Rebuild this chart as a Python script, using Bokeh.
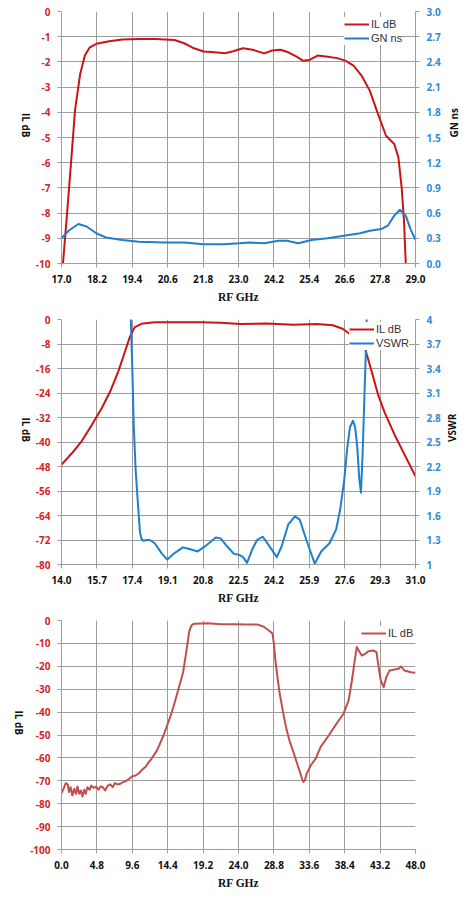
import math
from bokeh.plotting import figure
from bokeh.models import (Range1d, LinearAxis, FixedTicker, NumeralTickFormatter,
                          Legend, LegendItem)
from bokeh.layouts import column
from bokeh.embed import file_html
from bokeh.resources import INLINE

# ---------------- data ----------------
# Chart 1 : 17-29 GHz, IL dB (left) and GN ns (right)
c1_freq = [17.05, 17.19, 17.33, 17.46, 17.63, 17.79, 17.96, 18.18, 18.62, 19.06, 19.62, 20.17,
           20.83, 21.16, 21.49, 21.82, 22.2, 22.54, 22.82, 23.15, 23.48, 23.87, 24.14, 24.42,
           24.69, 24.97, 25.18, 25.41, 25.68, 25.96, 26.35, 26.62, 26.9, 27.17, 27.45, 27.73,
           28.0, 28.28, 28.42, 28.53, 28.61, 28.67]
c1_il = [-10.0, -8.0, -5.9, -3.9, -2.5, -1.75, -1.42, -1.28, -1.18, -1.11, -1.09, -1.09,
         -1.13, -1.26, -1.46, -1.59, -1.62, -1.66, -1.58, -1.46, -1.52, -1.66, -1.55, -1.52,
         -1.62, -1.79, -1.95, -1.92, -1.75, -1.79, -1.85, -1.95, -2.15, -2.54, -3.14, -4.07,
         -4.93, -5.26, -5.79, -6.98, -8.3, -10.0]
c1_gn_freq = [17.0, 17.24, 17.57, 17.85, 18.18, 18.51, 19.06, 19.62, 20.5, 21.16, 21.82, 22.48,
              23.04, 23.37, 23.87, 24.36, 24.64, 25.03, 25.47, 26.02, 26.57, 27.12, 27.45,
              27.84, 28.06, 28.28, 28.47, 28.67, 28.83, 29.0]
c1_gn = [0.30, 0.39, 0.47, 0.44, 0.36, 0.31, 0.28, 0.26, 0.25, 0.25, 0.23, 0.23,
         0.24, 0.25, 0.24, 0.27, 0.27, 0.24, 0.28, 0.30, 0.33, 0.36, 0.39,
         0.41, 0.45, 0.57, 0.64, 0.57, 0.41, 0.28]
c1_xticks = [17.0, 18.2, 19.4, 20.6, 21.8, 23.0, 24.2, 25.4, 26.6, 27.8, 29.0]
c1_yticks = [0, -1, -2, -3, -4, -5, -6, -7, -8, -9, -10]
c1_y2ticks = [0.0, 0.3, 0.6, 0.9, 1.2, 1.5, 1.8, 2.1, 2.4, 2.7, 3.0]

# Chart 2 : 14-31 GHz, IL dB (left) and VSWR (right)
c2_freq = [14.0, 14.51, 14.98, 15.46, 15.93, 16.33, 16.72, 17.04, 17.28, 17.52, 17.84, 18.47,
           19.42, 20.69, 21.64, 22.59, 23.86, 25.13, 26.24, 27.03, 27.5, 27.8, 28.2, 28.58,
           28.9, 29.21, 29.53, 30.0, 30.48, 31.0]
c2_il = [-47.4, -43.6, -39.6, -34.4, -29.0, -23.6, -17.1, -10.6, -5.7, -2.5, -1.4, -0.9,
         -0.9, -0.9, -1.1, -1.5, -1.3, -1.7, -1.5, -1.9, -3.0, -4.5, -6.8, -9.5,
         -17.1, -24.7, -30.6, -37.7, -44.2, -51.2]
c2_vswr_freq = [17.31, 17.33, 17.40, 17.47, 17.56, 17.69, 17.77, 17.85, 17.93, 18.08,
                18.24, 18.48, 18.80, 19.08, 19.43, 19.83, 20.14, 20.54, 20.93, 21.41,
                21.64, 21.96, 22.28, 22.51, 22.72, 22.91, 23.15, 23.39, 23.67, 23.94,
                24.34, 24.57, 24.89, 25.21, 25.44, 25.76, 26.16, 26.47, 26.87, 27.19,
                27.38, 27.58, 27.72, 27.85, 28.00, 28.10, 28.20, 28.30, 28.38, 28.46,
                28.54, 28.62, 28.70]
c2_vswr = [4.5, 4.0, 3.4, 2.7, 2.16, 1.67, 1.39, 1.31, 1.29, 1.30,
           1.30, 1.26, 1.14, 1.06, 1.14, 1.21, 1.19, 1.16, 1.23, 1.33,
           1.32, 1.22, 1.13, 1.12, 1.09, 1.02, 1.18, 1.30, 1.34, 1.24,
           1.09, 1.22, 1.49, 1.59, 1.55, 1.30, 1.01, 1.16, 1.26, 1.43,
           1.67, 2.04, 2.42, 2.68, 2.76, 2.68, 2.45, 2.05, 1.88, 2.35,
           3.0, 3.64, 4.5]
c2_xticks = [14.0, 15.7, 17.4, 19.1, 20.8, 22.5, 24.2, 25.9, 27.6, 29.3, 31.0]
c2_yticks = [0, -8, -16, -24, -32, -40, -48, -56, -64, -72, -80]
c2_y2ticks = [1.0, 1.3, 1.6, 1.9, 2.2, 2.5, 2.8, 3.1, 3.4, 3.7, 4.0]

# Chart 3 : 0-48 GHz wideband IL dB
c3_freq = [0.0, 0.27, 0.58, 0.85, 1.02, 1.24, 1.47, 1.73, 1.96, 2.17,
           2.4, 2.62, 2.84, 3.07, 3.29, 3.51, 3.82, 4.04, 4.4, 4.71,
           5.02, 5.29, 5.6, 5.91, 6.27, 6.62, 6.93, 7.24, 7.6, 7.96,
           8.27, 8.71, 9.16, 9.6, 10.04, 10.49, 10.93, 11.37, 11.82, 12.07,
           12.95, 13.84, 14.73, 15.17, 15.62, 16.06, 16.5, 16.81, 17.08, 17.3,
           17.52, 17.75, 18.06, 19.83, 21.6, 23.38, 25.15, 26.49, 27.37, 28.26,
           28.62, 28.8, 29.0, 29.28, 29.59, 30.04, 30.48, 30.9, 31.37, 31.8,
           32.25, 32.6, 32.79, 33.0, 33.23, 33.81, 34.47, 35.14, 36.25, 37.13,
           38.24, 38.93, 39.38, 39.82, 40.04, 40.36, 40.71, 41.16, 41.6, 42.27,
           42.71, 42.93, 43.29, 43.69, 44.04, 44.49, 45.16, 45.69, 46.04, 46.49,
           47.38, 48.0]
c3_il = [-75.4, -73.5, -71.0, -71.6, -74.9, -72.8, -76.4, -73.5, -75.7, -72.5,
         -75.7, -74.2, -76.9, -73.9, -75.7, -72.8, -73.9, -72.1, -73.1, -72.5,
         -73.9, -72.5, -72.8, -74.2, -72.1, -71.6, -72.8, -71.0, -71.6, -71.3,
         -70.7, -70.2, -69.1, -68.0, -67.7, -66.7, -65.2, -64.0, -61.9, -61.0,
         -56.7, -50.1, -42.2, -37.8, -32.7, -27.6, -22.5, -16.0, -10.2, -5.1,
         -2.9, -1.7, -1.4, -1.2, -1.6, -1.6, -1.7, -1.7, -2.6, -4.7,
         -5.8, -10.2, -17.4, -24.7, -32.0, -40.0, -47.2, -52.3, -56.7, -61.0,
         -65.4, -69.0, -70.5, -69.8, -67.0, -63.2, -60.3, -55.2, -50.1, -45.8,
         -40.7, -34.9, -26.2, -16.0, -11.6, -13.4, -15.3, -14.6, -13.4, -13.1,
         -13.8, -18.9, -26.2, -29.1, -24.7, -21.8, -21.4, -21.1, -20.1, -21.8,
         -22.6, -22.8]
c3_xticks = [0.0, 4.8, 9.6, 14.4, 19.2, 24.0, 28.8, 33.6, 38.4, 43.2, 48.0]
c3_yticks = [0, -10, -20, -30, -40, -50, -60, -70, -80, -90, -100]

# ---------------- style ----------------
RED_LINE = "#cc1416"
RED_LINE3 = "#c0504d"
BLUE_LINE = "#1f7fcf"
RED_TXT = "#d42424"
BLUE_TXT = "#2f8ad6"
GRID = "#9d9d9d"
TICK_FONT = "Open Sans"
HAS_ORIENT = "axis_label_orientation" in LinearAxis.properties()


def style_axis(ax, color, label, label_font, label_size, standoff, orient=None):
    ax.major_label_text_font = TICK_FONT
    ax.major_label_text_font_style = "bold"
    ax.major_label_text_font_size = "10px"
    ax.major_label_text_color = color
    ax.axis_line_color = GRID
    ax.major_tick_line_color = GRID
    ax.major_tick_out = 4
    ax.major_tick_in = 0
    ax.minor_tick_line_color = None
    ax.major_label_standoff = 7
    ax.axis_label = label
    ax.axis_label_text_font = label_font
    ax.axis_label_text_font_style = "bold"
    ax.axis_label_text_font_size = label_size
    ax.axis_label_text_color = "#111111"
    ax.axis_label_standoff = standoff
    if orient is not None and HAS_ORIENT:
        ax.axis_label_orientation = orient


def make_fig(xr, yr, bl, br, bt, bb, fw, fh):
    p = figure(width=bl + fw + br, height=bt + fh + bb, output_backend="svg",
               toolbar_location=None, x_range=Range1d(*xr), y_range=Range1d(*yr),
               min_border_left=bl, min_border_right=br,
               min_border_top=bt, min_border_bottom=bb)
    p.outline_line_color = None
    p.background_fill_color = "white"
    p.border_fill_color = "white"
    p.xgrid.grid_line_color = GRID
    p.ygrid.grid_line_color = GRID
    p.xgrid.grid_line_width = 1
    p.ygrid.grid_line_width = 1
    return p


def make_legend(items, loc, padding=2):
    lg = Legend(items=items, location=loc)
    lg.background_fill_color = "white"
    lg.background_fill_alpha = 1.0
    lg.border_line_color = None
    lg.label_text_font = "Liberation Sans"
    lg.label_text_font_size = "11px"
    lg.label_text_color = "#333333"
    lg.glyph_width = 25
    lg.glyph_height = 14
    lg.label_height = 14
    lg.label_standoff = 2
    lg.spacing = 0
    lg.padding = padding
    lg.margin = 0
    return lg


# ---------------- chart 1 ----------------
p1 = make_fig((17.0, 29.0), (-10, 0), 61, 47, 11, 47, 362, 252)
p1.extra_y_ranges = {"gn": Range1d(0.0, 3.0)}
r1 = p1.line(c1_freq, c1_il, line_color=RED_LINE, line_width=2, line_join="round")
r2 = p1.line(c1_gn_freq, c1_gn, y_range_name="gn", line_color=BLUE_LINE, line_width=2,
             line_join="round")
p1.xaxis.ticker = FixedTicker(ticks=c1_xticks)
p1.xaxis.formatter = NumeralTickFormatter(format="0.0")
p1.yaxis.ticker = FixedTicker(ticks=c1_yticks)
p1.yaxis.formatter = NumeralTickFormatter(format="0")
ax1r = LinearAxis(y_range_name="gn", ticker=FixedTicker(ticks=c1_y2ticks),
                  formatter=NumeralTickFormatter(format="0.0"))
p1.add_layout(ax1r, "right")
style_axis(p1.xaxis[0], "#111111", "RF GHz", "Liberation Serif", "11.5px", 5)
style_axis(p1.yaxis[0], RED_TXT, "IL dB", "Open Sans", "10px", 7, -math.pi / 2)
style_axis(ax1r, BLUE_TXT, "GN ns", "Open Sans", "10px", 10, math.pi / 2)
p1.add_layout(make_legend([LegendItem(label="IL dB", renderers=[r1]),
                           LegendItem(label="GN ns", renderers=[r2])], (283, 218)))

# ---------------- chart 2 ----------------
p2 = make_fig((14.0, 31.0), (-80, 0), 59, 53, 9, 41, 358, 246)
p2.extra_y_ranges = {"vswr": Range1d(1.0, 4.0)}
r3 = p2.line(c2_freq, c2_il, line_color=RED_LINE, line_width=2, line_join="round")
r4 = p2.line(c2_vswr_freq, c2_vswr, y_range_name="vswr", line_color=BLUE_LINE, line_width=2,
             line_join="round")
p2.xaxis.ticker = FixedTicker(ticks=c2_xticks)
p2.xaxis.formatter = NumeralTickFormatter(format="0.0")
p2.yaxis.ticker = FixedTicker(ticks=c2_yticks)
p2.yaxis.formatter = NumeralTickFormatter(format="0")
ax2r = LinearAxis(y_range_name="vswr", ticker=FixedTicker(ticks=c2_y2ticks),
                  formatter=NumeralTickFormatter(format="0.[0]"))
p2.add_layout(ax2r, "right")
style_axis(p2.xaxis[0], "#111111", "RF GHz", "Liberation Serif", "11.5px", 5)
style_axis(p2.yaxis[0], RED_TXT, "IL dB", "Open Sans", "10px", 7, -math.pi / 2)
style_axis(ax2r, BLUE_TXT, "VSWR", "Open Sans", "10px", 8, math.pi / 2)
p2.add_layout(make_legend([LegendItem(label="IL dB", renderers=[r3]),
                           LegendItem(label="VSWR", renderers=[r4])], (288, 214), padding=3))

# ---------------- chart 3 ----------------
p3 = make_fig((0.0, 48.0), (-100, 0), 58, 52, 14, 42, 360, 229)
r5 = p3.line(c3_freq, c3_il, line_color=RED_LINE3, line_width=2, line_join="round")
p3.xaxis.ticker = FixedTicker(ticks=c3_xticks)
p3.xaxis.formatter = NumeralTickFormatter(format="0.0")
p3.yaxis.ticker = FixedTicker(ticks=c3_yticks)
p3.yaxis.formatter = NumeralTickFormatter(format="0")
style_axis(p3.xaxis[0], "#111111", "RF GHz", "Liberation Serif", "11.5px", 5)
style_axis(p3.yaxis[0], RED_TXT, "IL dB", "Open Sans", "10px", 8, -math.pi / 2)
p3.add_layout(make_legend([LegendItem(label="IL dB", renderers=[r5])], (300, 209)))

layout = column(p1, p2, p3, spacing=0)
open("out.html", "w").write(file_html(layout, INLINE))
